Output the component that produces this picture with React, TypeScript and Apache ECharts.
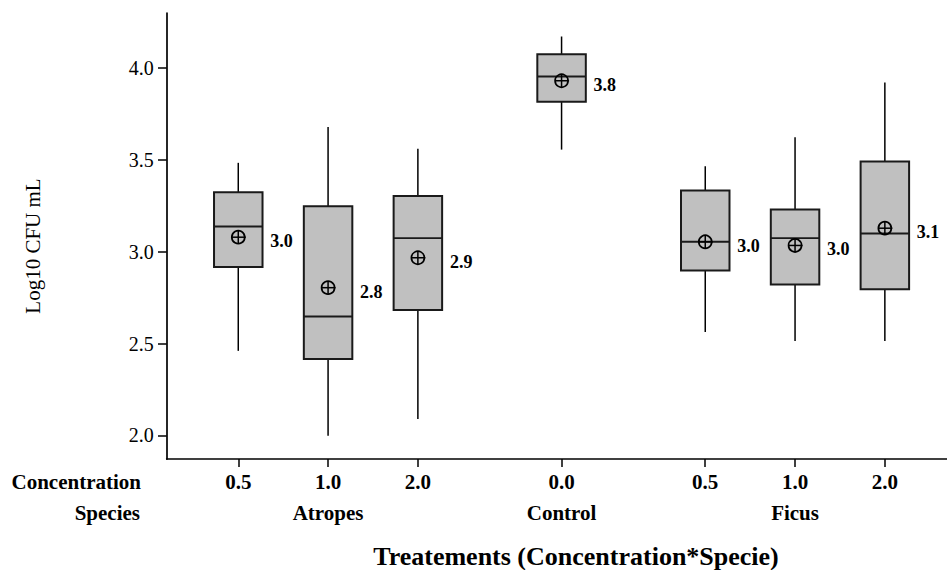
import React, { useEffect, useRef } from "react";
import * as echarts from "echarts";

// ---- data ----
const concentrations = ["0.5", "1.0", "2.0", "0.0", "0.5", "1.0", "2.0"];
const species = ["Atropes", "Atropes", "Atropes", "Control", "Ficus", "Ficus", "Ficus"];
const positions = [1, 2, 3, 4.6, 6.2, 7.2, 8.2];
const whiskerLow = [2.46, 1.997, 2.089, 3.556, 2.563, 2.514, 2.514];
const q1 = [2.916, 2.415, 2.683, 3.817, 2.897, 2.822, 2.795];
const median = [3.137, 2.647, 3.074, 3.954, 3.054, 3.074, 3.099];
const q3 = [3.324, 3.248, 3.304, 4.076, 3.333, 3.23, 3.491];
const whiskerHigh = [3.484, 3.679, 3.56, 4.172, 3.465, 3.623, 3.922];
const mean = [3.079, 2.804, 2.967, 3.931, 3.054, 3.034, 3.128];
const meanLabels = ["3.0", "2.8", "2.9", "3.8", "3.0", "3.0", "3.1"];
const yTicks = [2.0, 2.5, 3.0, 3.5, 4.0];

const FONT = "'Liberation Serif', 'Times New Roman', serif";

// index of the middle member of each species group
function speciesLabelIndex(): Set<number> {
  const groups: Record<string, number[]> = {};
  species.forEach((s, i) => {
    (groups[s] = groups[s] || []).push(i);
  });
  const out = new Set<number>();
  Object.values(groups).forEach((g) => out.add(g[Math.floor(g.length / 2)]));
  return out;
}

export default function App() {
  const ref = useRef<HTMLDivElement>(null);

  useEffect(() => {
    if (!ref.current) return;
    const chart = echarts.init(ref.current, undefined, { renderer: "svg" });
    const mids = speciesLabelIndex();

    const data = positions.map((p, i) => [
      p,
      whiskerLow[i],
      q1[i],
      median[i],
      q3[i],
      whiskerHigh[i],
      mean[i],
    ]);

    const nearestIndex = (v: number) => {
      let best = 0;
      positions.forEach((p, i) => {
        if (Math.abs(p - v) < Math.abs(positions[best] - v)) best = i;
      });
      return best;
    };

    const option: any = {
      animation: false,
      backgroundColor: "#ffffff",
      grid: { left: 166.7, right: 0, top: 13, bottom: 111, containLabel: false },
      xAxis: {
        type: "value",
        min: 0.203,
        max: 8.892,
        splitLine: { show: false },
        axisLine: { show: true, lineStyle: { color: "#000", width: 1.7 } },
        axisTick: {
          show: true,
          customValues: positions,
          length: 8,
          lineStyle: { color: "#000", width: 1.5 },
        },
        axisLabel: {
          customValues: positions,
          margin: 7,
          color: "#000",
          fontFamily: FONT,
          fontWeight: "bold",
          fontSize: 21,
          lineHeight: 31,
          formatter: (v: number) => {
            const i = nearestIndex(v);
            return mids.has(i)
              ? `${concentrations[i]}\n{sp|${species[i]}}`
              : concentrations[i];
          },
          rich: {
            sp: {
              fontFamily: FONT,
              fontWeight: "bold",
              fontSize: 21,
              lineHeight: 31,
              color: "#000",
            },
          },
        },
      },
      yAxis: {
        type: "value",
        min: 1.871,
        max: 4.3,
        splitLine: { show: false },
        axisLine: { show: true, lineStyle: { color: "#000", width: 1.7 } },
        axisTick: {
          show: true,
          customValues: yTicks,
          length: 8.7,
          lineStyle: { color: "#000", width: 1.5 },
        },
        axisLabel: {
          customValues: yTicks,
          margin: 13,
          color: "#000",
          fontFamily: FONT,
          fontSize: 20,
          formatter: (v: number) => v.toFixed(1),
        },
      },
      graphic: [
        {
          type: "text",
          x: 33,
          y: 246,
          rotation: Math.PI / 2,
          style: {
            text: "Log10 CFU mL",
            font: `21px ${FONT}`,
            fill: "#000",
            align: "center",
            verticalAlign: "middle",
          },
        },
        {
          type: "text",
          x: 141,
          y: 482,
          style: {
            text: "Concentration",
            font: `bold 21px ${FONT}`,
            fill: "#000",
            align: "right",
            verticalAlign: "middle",
          },
        },
        {
          type: "text",
          x: 140,
          y: 513,
          style: {
            text: "Species",
            font: `bold 21px ${FONT}`,
            fill: "#000",
            align: "right",
            verticalAlign: "middle",
          },
        },
        {
          type: "text",
          x: 576,
          y: 556,
          style: {
            text: "Treatements (Concentration*Specie)",
            font: `bold 26px ${FONT}`,
            fill: "#000",
            align: "center",
            verticalAlign: "middle",
          },
        },
      ],
      series: [
        {
          type: "custom",
          data,
          encode: { x: 0, y: [1, 2, 3, 4, 5, 6] },
          renderItem: (params: any, api: any) => {
            const x = api.value(0);
            const pLow = api.coord([x, api.value(1)]);
            const pQ1 = api.coord([x, api.value(2)]);
            const pMed = api.coord([x, api.value(3)]);
            const pQ3 = api.coord([x, api.value(4)]);
            const pHigh = api.coord([x, api.value(5)]);
            const pMean = api.coord([x, api.value(6)]);
            const w = api.size([0.54, 0])[0];
            const cx = pQ1[0];
            const r = 6.5;
            const lineStyle = { stroke: "#000", lineWidth: 1.5 };
            return {
              type: "group",
              children: [
                {
                  type: "line",
                  shape: { x1: cx, y1: pQ3[1], x2: cx, y2: pHigh[1] },
                  style: lineStyle,
                },
                {
                  type: "line",
                  shape: { x1: cx, y1: pQ1[1], x2: cx, y2: pLow[1] },
                  style: lineStyle,
                },
                {
                  type: "rect",
                  shape: { x: cx - w / 2, y: pQ3[1], width: w, height: pQ1[1] - pQ3[1] },
                  style: { fill: "#c0c0c0", stroke: "#1a1a1a", lineWidth: 2 },
                },
                {
                  type: "line",
                  shape: { x1: cx - w / 2, y1: pMed[1], x2: cx + w / 2, y2: pMed[1] },
                  style: { stroke: "#1a1a1a", lineWidth: 1.9 },
                },
                {
                  type: "circle",
                  shape: { cx, cy: pMean[1], r },
                  style: { fill: "none", stroke: "#000", lineWidth: 1.7 },
                },
                {
                  type: "line",
                  shape: { x1: cx - r, y1: pMean[1], x2: cx + r + 1, y2: pMean[1] },
                  style: { stroke: "#000", lineWidth: 1.5 },
                },
                {
                  type: "line",
                  shape: { x1: cx, y1: pMean[1] - r, x2: cx, y2: pMean[1] + r },
                  style: { stroke: "#000", lineWidth: 1.5 },
                },
                {
                  type: "text",
                  x: cx + 32,
                  y: pMean[1] + 4,
                  style: {
                    text: meanLabels[params.dataIndex],
                    font: `bold 18px ${FONT}`,
                    fill: "#000",
                    align: "left",
                    verticalAlign: "middle",
                  },
                },
              ],
            };
          },
        },
      ],
    };

    chart.setOption(option);
    return () => chart.dispose();
  }, []);

  return (
    <div
      ref={ref}
      style={{ position: "absolute", left: 0, top: 0, width: 947, height: 570, background: "#fff" }}
    />
  );
}
